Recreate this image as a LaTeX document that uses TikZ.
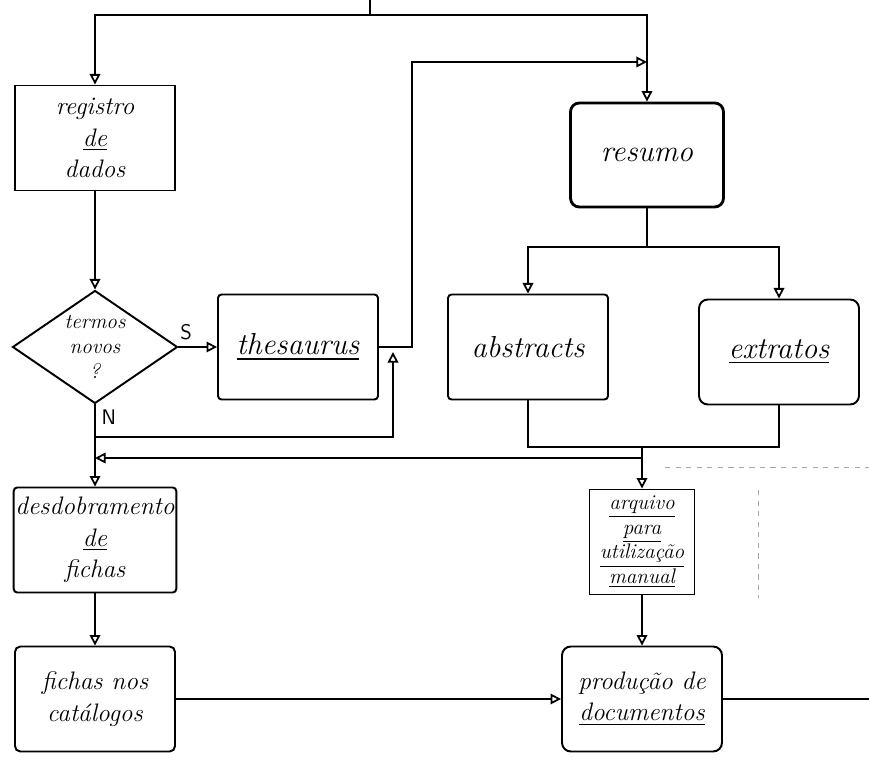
\documentclass[tikz,border=0pt]{standalone}
\usepackage{amsmath,tikz}
\usetikzlibrary{arrows.meta,shapes.geometric}

\begin{document}
\begin{tikzpicture}[x=0.02cm,y=-0.02cm,
		box/.style={draw,line width=1.1pt,minimum width=3.2cm,minimum height=2.1cm,align=center,font=\Large\itshape},
		rbox/.style={box,rounded corners=5pt},
		dec/.style={draw,diamond,line width=1.1pt,minimum width=3.3cm,minimum height=2.26cm,inner sep=0pt},
		flow/.style={line width=1pt,-{Triangle[open,length=6pt,width=6pt]}},
		line/.style={line width=1pt}]
		\useasboundingbox (0,0) rectangle (869,766);

		\draw (95,138) node [box] (reg) {registro\\\underline{de}\\dados};
		\draw (95,347) node [dec,label={[align=center,font=\large\itshape]center:termos\\novos\\?}] (dec) {};
		\draw (298,347) node [box,rounded corners=2pt,font=\LARGE\itshape] (thes) {\underline{thesaurus}};
		\draw (647,155) node [rbox,line width=1.6pt,minimum width=3.06cm,minimum height=2.08cm,font=\LARGE\itshape] (res) {resumo};
		\draw (528,347) node [box,rounded corners=2pt,font=\LARGE\itshape] (abs) {abstracts};
		\draw (779,352) node [rbox,font=\LARGE\itshape] (ext) {\underline{extratos}};
		\draw (95,540) node [box,rounded corners=2pt,inner sep=1pt] (desd) {desdobramento\\\underline{de}\\fichas};
		\draw (95,699) node [box,rounded corners=3pt] (fich) {fichas nos\\catálogos};
		\draw (642,542) node [box,minimum width=2.1cm,inner sep=1pt,font=\large\itshape] (arq) {\underline{arquivo}\\\underline{para}\\\underline{utilização}\\\underline{manual}};
		\draw (642,699) node [rbox,inner sep=2pt] (prod) {produção de\\\underline{documentos}};

		\coordinate (top) at (370,0);
		\coordinate (tj) at (370,15);
		\coordinate (tin) at (647,62);
		\coordinate (tup) at (393,352);
		\coordinate (nj) at (95,437);
		\coordinate (nk) at (95,458);
		\coordinate (rj) at (647,247);
		\coordinate (mj) at (642,447);
		\coordinate (out) at (869,699);

		% entrada e ramos de cima
		\draw [line] (top) -- (tj);
		\draw [flow] (tj) -| (reg.north);
		\draw [flow] (tj) -| (res.north);
		\draw [flow] (thes.east) -- ++(33,0) |- (tin);

		\draw
			(reg) edge [flow] (dec)
			(dec) edge [flow] node [pos=0.2,above,font=\sffamily\large] {S} (thes)
			(dec) edge [flow] node [pos=0.15,right,font=\sffamily\large] {N} (desd)
			(desd) edge [flow] (fich)
			(fich) edge [flow] (prod)
			(arq) edge [flow] (prod)
			(prod) edge [line] (out)
		;

		% N volta ao thesaurus
		\draw [flow] (nj) -| (tup);

		% resumo em abstracts e extratos
		\draw [line] (res.south) -- (rj);
		\draw [flow] (rj) -| (abs.north);
		\draw [flow] (rj) -| (ext.north);
		\draw [line] (abs.south) |- (mj);
		\draw [line] (ext.south) |- (mj);
		\draw [flow] (mj) -- (arq.north);
		\draw [flow] (mj) |- (nk);

		% tracejado
		\coordinate (da) at (665,467);
		\coordinate (db) at (869,467);
		\coordinate (dc) at (758,490);
		\coordinate (dd) at (758,598);
		\draw [dashed,gray!70] (da) -- (db);
		\draw [dashed,gray!70] (dc) -- (dd);
	\end{tikzpicture}
\end{document}
